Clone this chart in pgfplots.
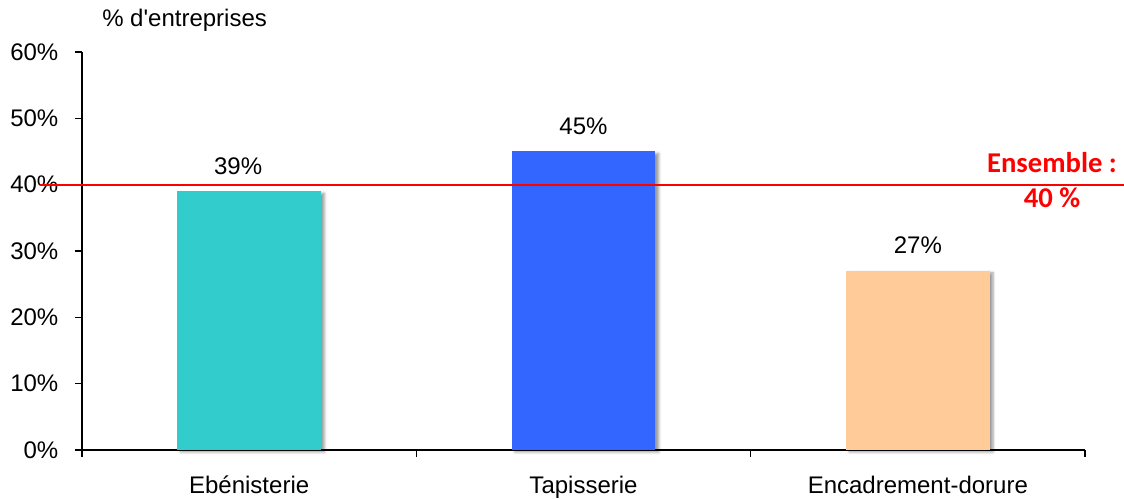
\documentclass[border=0pt]{standalone}
\usepackage{pgfplots}
\pgfplotsset{compat=1.18}
\usetikzlibrary{shadows.blur}
\usepackage{fontspec}
\setmainfont{Liberation Sans}
\newfontfamily\calib{Carlito}
\definecolor{cteal}{RGB}{51,204,204}
\definecolor{cblue}{RGB}{51,102,255}
\definecolor{cpeach}{RGB}{255,204,153}
\definecolor{cred}{RGB}{255,0,0}
\begin{document}
\begin{tikzpicture}[x=1pt,y=1pt]
\begin{axis}[
  at={(0,0)}, anchor=south west,
  scale only axis, width=752.25pt, height=298.5pt,
  xmin=-0.5, xmax=2.5, ymin=0, ymax=60,
  axis lines*=left,
  axis line style={line width=1.2pt, black},
  ybar, bar width=0.43, bar shift=0pt,
  ytick={0,10,20,30,40,50,60},
  yticklabels={0\%,10\%,20\%,30\%,40\%,50\%,60\%},
  yticklabel style={xshift=-9pt},
  xtick={-0.5,0.5,1.5,2.5}, xticklabels={},
  extra x ticks={0,1,2},
  extra x tick labels={Ebénisterie,Tapisserie,Encadrement-dorure},
  extra x tick style={tick style={draw=none}, xticklabel style={yshift=-10.5pt}},
  tick align=outside, major tick length=5.25pt,
  tick style={line width=1.2pt, black},
  tick label style={font=\fontsize{18}{21}\selectfont},
  clip=false,
]
\addplot[fill=cteal, draw=none, blur shadow={shadow xshift=2.5pt, shadow yshift=-1.5pt, shadow blur radius=2pt, shadow opacity=40}] coordinates {(0,39)};
\addplot[fill=cblue, draw=none, blur shadow={shadow xshift=2.5pt, shadow yshift=-1.5pt, shadow blur radius=2pt, shadow opacity=40}] coordinates {(1,45)};
\addplot[fill=cpeach, draw=none, blur shadow={shadow xshift=2.5pt, shadow yshift=-1.5pt, shadow blur radius=2pt, shadow opacity=40}] coordinates {(2,27)};
\node[anchor=base, xshift=-8.25pt, yshift=12.75pt, font=\fontsize{18}{21}\selectfont] at (axis cs:0,39) {39\%};
\node[anchor=base, yshift=12.75pt, font=\fontsize{18}{21}\selectfont] at (axis cs:1,45) {45\%};
\node[anchor=base, yshift=12.75pt, font=\fontsize{18}{21}\selectfont] at (axis cs:2,27) {27\%};
\draw[cred, line width=1.6pt] ([xshift=-31.5pt]axis cs:-0.5,40) -- ([xshift=29.25pt]axis cs:2.5,40);
\node[anchor=base, xshift=-24.75pt, yshift=9pt, text=cred, font=\calib\bfseries\fontsize{21.5}{24}\selectfont] at (axis cs:2.5,40) {Ensemble :};
\node[anchor=base, xshift=-24.75pt, yshift=-17.25pt, text=cred, font=\calib\bfseries\fontsize{21.5}{24}\selectfont] at (axis cs:2.5,40) {40 \%};
\node[anchor=base west, inner sep=0pt, xshift=15pt, yshift=18.75pt, font=\fontsize{18}{21}\selectfont] at (rel axis cs:0,1) {\% d\textquotesingle entreprises};
\end{axis}
\pgfresetboundingbox
\useasboundingbox (-61.5,-36.75) rectangle (781.5,337.5);
\end{tikzpicture}
\end{document}
